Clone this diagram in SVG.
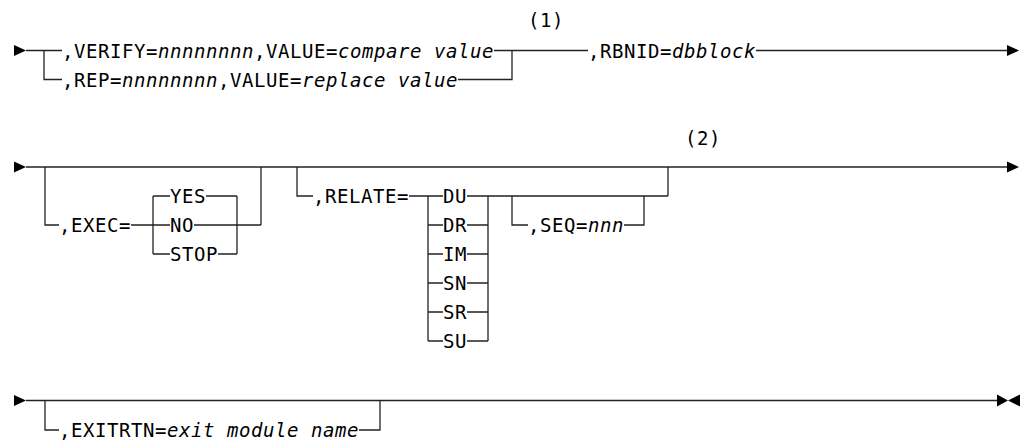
<svg xmlns="http://www.w3.org/2000/svg" width="1024" height="443" viewBox="0 0 1024 443">
<style>
.t{font-family:"DejaVu Sans Mono","Liberation Mono",monospace;font-size:19px;letter-spacing:0.56px;fill:#000}
.i{font-style:italic}
.c{fill:none;stroke:#222;stroke-width:1.3}
.a{fill:#000}
</style>
<rect width="1024" height="443" fill="#fff"/>
<g id="connectors">
<polygon class="a" points="14,45 26,50.5 14,56"/>
<path class="c" d="M26,50.5H62 M44,50.5V79.5H62 M494,50.5H588 M458,79.5H512V50.5 M756,50.5H1008"/>
<polygon class="a" points="1007,45 1019,50.5 1007,56"/>
<polygon class="a" points="14,161.5 26,167 14,172.5"/>
<path class="c" d="M26,167H1008"/>
<path class="c" d="M45,167V225H59 M131,225H170 M153,196V254 M153,196H170 M153,254H170 M206,196H237 M194,225H261 M218,254H237 M237,196V254 M261,225V167"/>
<path class="c" d="M297,167V196H313 M409,196H443 M428,196V341 M428,225H443 M428,254H443 M428,283H443 M428,312H443 M428,341H443 M467,196H668 M467,225H488 M467,254H488 M467,283H488 M467,312H488 M467,341H488 M488,196V341"/>
<path class="c" d="M512,196V225H528 M624,225H644V196 M668,196V167"/>
<polygon class="a" points="1007,161.5 1019,167 1007,172.5"/>
<polygon class="a" points="14,395 26,400.5 14,406"/>
<path class="c" d="M26,400.5H997 M45,400.5V430H59 M359,430H380V400.5"/>
<polygon class="a" points="997,394.5 1008,400.5 997,406.5"/>
<polygon class="a" points="1020,394.5 1008,400.5 1020,406.5"/>
</g>
<g id="verify"><text class="t" x="62" y="57.5">,VERIFY=<tspan class="i">nnnnnnnn</tspan>,VALUE=<tspan class="i">compare value</tspan></text></g>
<g id="rep"><text class="t" x="62" y="86.5">,REP=<tspan class="i">nnnnnnnn</tspan>,VALUE=<tspan class="i">replace value</tspan></text></g>
<g id="note1"><text class="t" x="528" y="27">(1)</text></g>
<g id="rbnid"><text class="t" x="588" y="57.5">,RBNID=<tspan class="i">dbblock</tspan></text></g>
<g id="exec"><text class="t" x="59" y="232">,EXEC=</text></g>
<g id="yes"><text class="t" x="170" y="203">YES</text></g>
<g id="no"><text class="t" x="170" y="232">NO</text></g>
<g id="stop"><text class="t" x="170" y="261">STOP</text></g>
<g id="relate"><text class="t" x="313" y="203">,RELATE=</text></g>
<g id="du"><text class="t" x="443" y="203">DU</text></g>
<g id="dr"><text class="t" x="443" y="232">DR</text></g>
<g id="im"><text class="t" x="443" y="261">IM</text></g>
<g id="sn"><text class="t" x="443" y="290">SN</text></g>
<g id="sr"><text class="t" x="443" y="319">SR</text></g>
<g id="su"><text class="t" x="443" y="348">SU</text></g>
<g id="seq"><text class="t" x="528" y="232">,SEQ=<tspan class="i">nnn</tspan></text></g>
<g id="note2"><text class="t" x="685" y="145">(2)</text></g>
<g id="exitrtn"><text class="t" x="59" y="437">,EXITRTN=<tspan class="i">exit module name</tspan></text></g>
</svg>
